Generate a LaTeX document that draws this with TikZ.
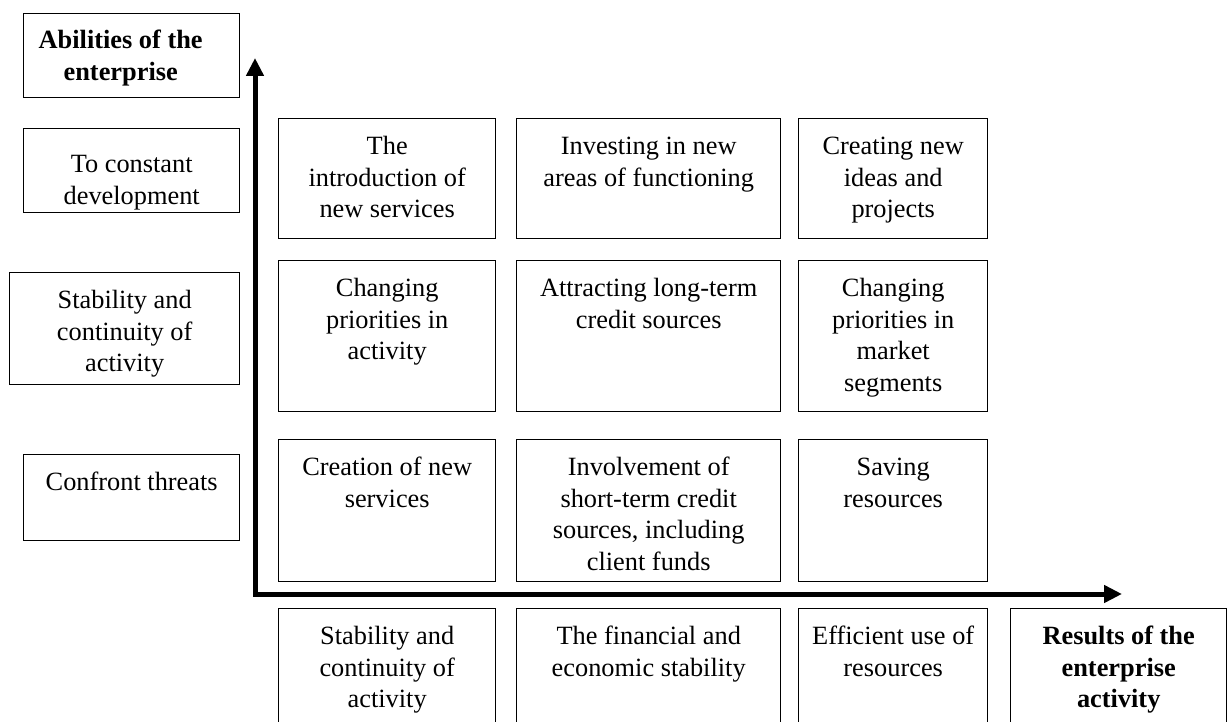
\documentclass[tikz,border=0pt]{standalone}
\usepackage{fontspec}
\setmainfont{Liberation Serif}
\usetikzlibrary{arrows.meta}

\newlength{\pxu}
\setlength{\pxu}{0.02cm}
\newcommand{\cell}[4][36]{\parbox[t][#3\pxu][t]{#2\pxu}{\centering\rule{0pt}{#1\pxu}#4}}

\begin{document}
\begin{tikzpicture}[x=0.02cm,y=-0.02cm,
                cell box/.style={draw,line width=0.8pt,anchor=north west,inner sep=0pt,
                                 font=\fontsize{15pt}{18pt}\selectfont},
                axis line/.style={line width=0.1cm,line join=miter,
                                  {Triangle[length=0.36cm,width=0.34cm]}-{Triangle[length=0.36cm,width=0.34cm]}}]

            \useasboundingbox (0,0) rectangle (1229,722);
            \clip (0,0) rectangle (1229,722);

            % abilities (left column)
            \node[cell box] (abil) at (23,13) {\cell[35]{216}{84}{\bfseries\hspace*{-22\pxu}Abilities of the\\\hspace*{-22\pxu}enterprise}};
            \node[cell box] (dev) at (23,128) {\cell[44]{216}{84}{To constant\\development}};
            \node[cell box] (stab) at (9,272) {\cell{230}{112}{Stability and\\continuity of\\activity}};
            \node[cell box] (threat) at (23,454) {\cell{216}{86}{Confront threats}};

            % grid
            \node[cell box] (A1) at (278,118) {\cell{217}{120}{The\\introduction of\\new services}};
            \node[cell box] (A2) at (516,118) {\cell{264}{120}{Investing in new\\areas of functioning}};
            \node[cell box] (A3) at (798,118) {\cell{189}{120}{Creating new\\ideas and\\projects}};
            \node[cell box] (B1) at (278,260) {\cell{217}{151}{Changing\\priorities in\\activity}};
            \node[cell box] (B2) at (516,260) {\cell{264}{151}{Attracting long-term\\credit sources}};
            \node[cell box] (B3) at (798,260) {\cell{189}{151}{Changing\\priorities in\\market\\segments}};
            \node[cell box] (C1) at (278,439) {\cell{217}{142}{Creation of new\\services}};
            \node[cell box] (C2) at (516,439) {\cell{264}{142}{Involvement of\\short-term credit\\sources, including\\client funds}};
            \node[cell box] (C3) at (798,439) {\cell{189}{142}{Saving\\resources}};

            % results (bottom row)
            \node[cell box] (R1) at (278,608) {\cell{217}{130}{Stability and\\continuity of\\activity}};
            \node[cell box] (R2) at (516,608) {\cell{264}{130}{The financial and\\economic stability}};
            \node[cell box] (R3) at (798,608) {\cell{189}{130}{Efficient use of\\resources}};
            \node[cell box] (res) at (1010,608) {\cell{216}{130}{\bfseries Results of the\\enterprise\\activity}};

            \coordinate (ytip) at (255,58);
            \coordinate (xtip) at (1122,594);
            \draw[axis line] (ytip) |- (xtip);

        \end{tikzpicture}
\end{document}
